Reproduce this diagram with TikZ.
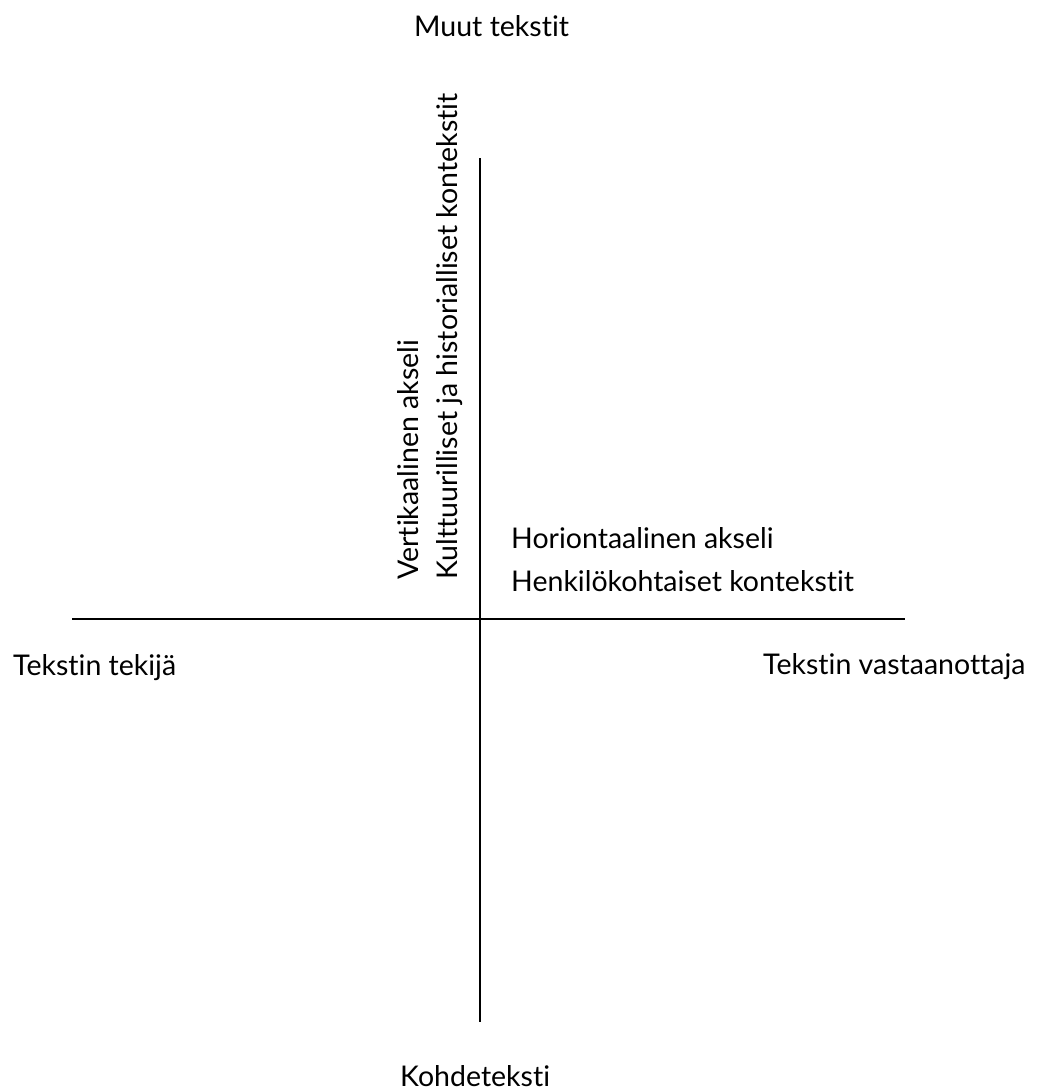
\documentclass[tikz,border=0pt]{standalone}
\usepackage{fontspec}
\setmainfont{Lato}[Ligatures=NoCommon]
\begin{document}
\begin{tikzpicture}[x=1pt,y=-1pt,
  lbl/.style={inner sep=0pt,font=\fontsize{28.5}{32}\selectfont},
  axis/.style={line width=2pt,black}]
\useasboundingbox (0,0) rectangle (1041,1092);
\coordinate (vtop) at (480,158);
\coordinate (vbot) at (480,1022);
\coordinate (hl) at (72,619);
\coordinate (hr) at (905,619);
\draw[axis] (vtop) -- (vbot);
\draw[axis] (hl) -- (hr);
\node[lbl,anchor=base west] (top) at (414,36) {Muut tekstit};
\node[lbl,anchor=base west] (bot) at (400,1086) {Kohdeteksti};
\node[lbl,anchor=base west] (left) at (13,675) {Tekstin tekijä};
\node[lbl,anchor=base west] (right) at (763,674) {Tekstin vastaanottaja};
\node[lbl,anchor=base west] (h1) at (511,548) {Horiontaalinen akseli};
\node[lbl,anchor=base west] (h2) at (511,591) {Henkilökohtaiset kontekstit};
\node[lbl,anchor=base west,rotate=90] (v1) at (418,580) {Vertikaalinen akseli};
\node[lbl,anchor=base west,rotate=90] (v2) at (457,580) {Kulttuurilliset ja historialliset kontekstit};
\end{tikzpicture}
\end{document}
